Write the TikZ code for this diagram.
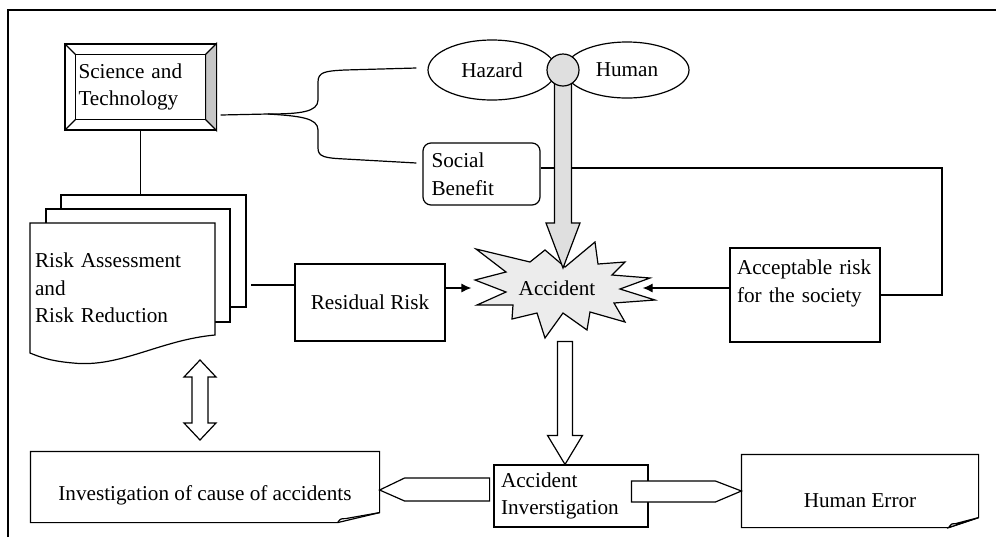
\documentclass[tikz,border=0pt]{standalone}
\usepackage{fontspec}
\setmainfont{Liberation Serif}
\usetikzlibrary{shapes.geometric,calc,arrows.meta}

\tikzset{
  box/.style={draw, rectangle, inner sep=2pt, align=left},
  docnode/.style={rectangle, inner sep=0pt},
  hollow/.style={draw, fill=white, line join=miter},
  tip/.style={-{Latex[length=5pt,width=4.5pt]}},
}

\begin{document}
\begin{tikzpicture}[x=0.5pt,y=-0.5pt,line width=0.6pt,font=\fontsize{10.6}{13.8}\selectfont]
\useasboundingbox (0,0) rectangle (996,537);
\draw[line width=0.8pt] (8,537) -- (8,10) -- (996,10);

% science and technology, framed
\node[box, minimum width=75.5pt, minimum height=43pt, text width=62pt] (sci) at (140.5,87) {Science and\\Technology};
\draw ($(sci.north west)+(11,11)$) rectangle ($(sci.south east)+(-11,-11)$);
\draw[fill=gray!45] (sci.north east) -- ($(sci.north east)+(-11,11)$) -- ($(sci.south east)+(-11,-11)$) -- (sci.south east) -- cycle;
\foreach \c/\d in {north west/{11,11}, south west/{11,-11}}
  \draw (sci.\c) -- ($(sci.\c)+(\d)$);

% stack of pages
\draw[fill=white] (61,195) rectangle (246,307);
\draw[fill=white] (46,209) rectangle (230,322);
\draw[fill=white] (30,223) -- (215,223) -- (215,335) .. controls (160,340) and (120,368) .. (73,363) .. controls (50,361) and (40,357) .. (30,353) -- cycle;
\node[align=left, text width=87.5pt, inner sep=0pt] (rsk) at (122.5,288) {Risk Assessment\\and\\Risk Reduction};
\coordinate (stk) at (140,195);
\coordinate (stkr) at (251,285);
\draw (sci.south) -- (sci.south |- stk);

\node[box, minimum width=75pt, minimum height=38.5pt] (res) at (370,302.5) {Residual Risk};
\draw (stkr) -- (stkr -| res.west);

% accident
\draw[fill=gray!15, line join=miter] (545,250) -- (565,267) -- (595,242) -- (598,264) -- (625,262) -- (612,275) -- (650,278) -- (620,289) -- (655,300) -- (614,303) -- (625,322) -- (590,312) -- (587,330) -- (563,313) -- (545,338) -- (537,313) -- (512,319) -- (513,305) -- (477,305) -- (506,292) -- (475,280) -- (506,272) -- (476,249) -- (530,262) -- cycle;
\node[ellipse, minimum width=85pt, minimum height=40pt, inner sep=0pt] (acc) at (557,288) {Accident};
\draw[tip] (res.east |- acc.west) -- (acc.west);

% hazard and human
\node[ellipse, draw, minimum width=64pt, minimum height=30pt, inner sep=0pt] (haz) at (492,70) {Hazard\hspace{6pt}};
\node[ellipse, draw, minimum width=62pt, minimum height=28pt, inner sep=0pt] (hum) at (627,70) {Human};

\node[box, rounded corners=4pt, minimum width=58.5pt, minimum height=31pt, text width=50pt] (soc) at (481.5,174) {Social\\Benefit};

% brace
\draw ([xshift=2pt,yshift=-14pt]sci.east) -- (268,114) .. controls (300,114) and (318,112) .. (318,100) -- (318,82) .. controls (318,72) and (325,71) .. (345,70) -- ([xshift=-5.5pt,yshift=1pt]haz.west);
\draw (268,114) .. controls (300,116) and (318,118) .. (318,130) -- (318,148) .. controls (318,157) and (325,158) .. (345,159) -- ([xshift=-3pt,yshift=5.5pt]soc.west);

\node[box, minimum width=75pt, minimum height=47pt, text width=68pt] (acp) at (805,295) {Acceptable risk\\for the society\\~};
\coordinate (cor) at (942,168);
\draw ([yshift=3pt]soc.east) -- (cor) |- (acp.east);
\draw[tip] ([yshift=3.5pt]acp.west) -- (acc.east);

% grey arrow into the accident
\draw[fill=gray!25, line join=miter] (563,268) -- ++(-17,-45) -- ++(8.5,0) -- ++(0,-143) -- ++(17,0) -- ++(0,143) -- ++(8.5,0) -- cycle;
\node[circle, draw, fill=gray!25, minimum size=16pt, inner sep=0pt] (knot) at (563,70) {};

% investigation
\node[box, minimum width=77pt, minimum height=31pt, text width=70pt] (ainv) at (571,496) {Accident\\Inverstigation};
\draw[hollow] ($(ainv.north)+(-6,0)$) -- ++(-17.5,-29) -- ++(10,0) -- ++(0,-94) -- ++(15,0) -- ++(0,94) -- ++(10,0) -- cycle;

\node[docnode, minimum width=174pt, minimum height=35pt, label={[yshift=-4pt]center:Investigation of cause of accidents}] (inv) at (205,487) {};
\draw (inv.north west) -- (inv.north east) -- ([yshift=5pt]inv.south east) -- ([xshift=-21pt]inv.south east) -- (inv.south west) -- cycle;
\draw ([xshift=-21pt]inv.south east) .. controls ++(3,-4) .. ++(8,-4) -- ([yshift=5pt]inv.south east);

\node[docnode, minimum width=118pt, minimum height=36pt, label={[yshift=-5pt]center:Human Error}] (herr) at (860,491) {};
\draw (herr.north west) -- (herr.north east) -- ([yshift=5pt]herr.south east) -- ([xshift=-15pt]herr.south east) -- (herr.south west) -- cycle;
\draw[fill=gray!25] ([xshift=-15pt]herr.south east) .. controls ++(3,-4) .. ++(7,-4) -- ([yshift=5pt]herr.south east) -- cycle;

\draw[hollow] (inv.east |- 0,490) -- ++(25,-12) -- ++(85,0) -- ++(0,23) -- ++(-85,0) -- cycle;
\draw[hollow] (herr.west) -- ++(-26,-10) -- ++(-84,0) -- ++(0,21) -- ++(84,0) -- cycle;

% two-way arrow
\draw[hollow] (200,360) -- ++(16,17) -- ++(-8,0) -- ++(0,46) -- ++(8,0) -- (200,440) -- ++(-16,-17) -- ++(8,0) -- ++(0,-46) -- ++(-8,0) -- cycle;
\end{tikzpicture}
\end{document}
